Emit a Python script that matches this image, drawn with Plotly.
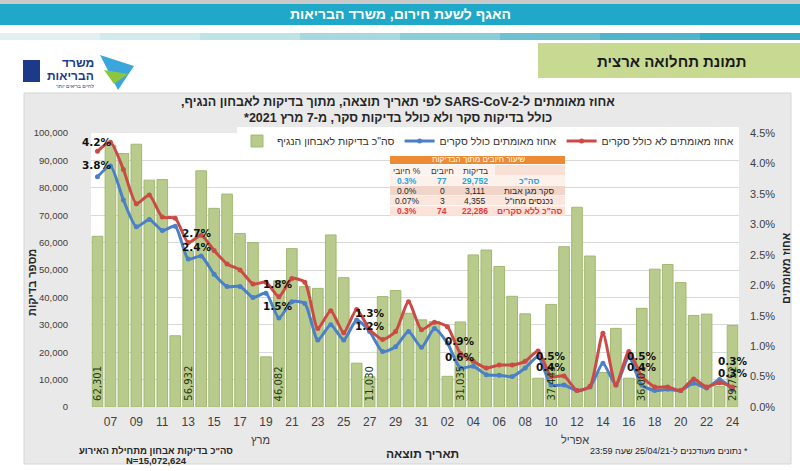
import plotly.graph_objects as go
import pandas as pd

# ---------------- data ----------------
dates = pd.date_range("2021-03-06", "2021-04-24", freq="D").strftime("%Y-%m-%d").tolist()

tests = [62301, 95500, 92500, 95900, 82800, 83000, 26000, 56932, 86200, 72500,
         77700, 63300, 60000, 18300, 46082, 57800, 44000, 43300, 62800, 47200,
         16000, 11030, 40300, 42500, 34200, 31800, 31200, 11200, 31035, 55500,
         57300, 51300, 40400, 34000, 10500, 37443, 58500, 72900, 55100, 12600,
         28700, 10500, 36001, 50300, 52000, 45400, 33400, 33900, 7500, 29752]

pct_no_screen = [4.20, 4.35, 3.90, 3.34, 3.48, 3.12, 3.10, 2.70, 2.82, 2.57,
                 2.35, 2.25, 2.02, 2.05, 1.81, 2.11, 2.05, 1.29, 1.58, 1.22,
                 1.60, 1.27, 1.11, 1.24, 1.73, 1.27, 1.39, 1.32, 0.88, 0.75,
                 0.64, 0.69, 0.69, 0.75, 0.92, 0.50, 0.51, 0.27, 0.34, 1.21,
                 0.36, 0.91, 0.50, 0.33, 0.33, 0.27, 0.46, 0.33, 0.40, 0.33]

pct_with_screen = [3.78, 3.96, 3.40, 2.96, 3.08, 2.90, 2.97, 2.43, 2.48, 2.18,
                   1.98, 1.98, 1.80, 1.87, 1.46, 1.73, 1.70, 1.10, 1.35, 1.10,
                   1.43, 1.24, 0.91, 0.99, 1.24, 0.98, 1.29, 1.05, 0.64, 0.67,
                   0.53, 0.52, 0.50, 0.64, 0.83, 0.36, 0.36, 0.27, 0.33, 0.72,
                   0.36, 0.82, 0.36, 0.27, 0.29, 0.27, 0.39, 0.31, 0.45, 0.28]

label_dates = ["2021-03-06", "2021-03-13", "2021-03-20", "2021-03-27",
               "2021-04-03", "2021-04-10", "2021-04-17", "2021-04-24"]

name_bars = 'סה"כ בדיקות לאבחון הנגיף'
name_with = "אחוז מאומתים כולל סקרים"
name_no = "אחוז מאומתים לא כולל סקרים"

table_title = "שיעור חיובים מתוך הבדיקות"
table_cols = ["בדיקות", "חיובים", "% חיובי"]
table_rows = ['סה"כ', "סקר מגן אבות", 'נכנסים מחו"ל', 'סה"כ ללא סקרים']
table_tests = [29752, 3111, 4355, 22286]
table_pos = [77, 0, 3, 74]
table_pct = ["0.3%", "0.0%", "0.07%", "0.3%"]

# ---------------- styles ----------------
FONT = "Liberation Sans, DejaVu Sans, Arial, sans-serif"
VFONT = "DejaVu Sans, Verdana, sans-serif"
RED = "#cc4a45"
BLUE = "#4a80c8"
GREEN = "#b8cb8c"

L, R, T, B = 91, 739, 133, 407
W, H = 800, 471


def px(x):
    return (x - L) / (R - L)


def py(y):
    return (B - y) / (B - T)


def rtl(s):
    return "\u202b" + s + "\u202c"


fig = go.Figure()

bar_text_idx = [dates.index(d) for d in label_dates]

fig.add_trace(go.Bar(
    x=dates, y=tests, name=name_bars,
    marker=dict(color=GREEN, line=dict(color="#a2b872", width=1)),
    hoverinfo="x+y",
))
fig.add_trace(go.Scatter(
    x=dates, y=pct_with_screen, name=name_with, yaxis="y2",
    mode="lines+markers", line=dict(color=BLUE, width=3, shape="spline", smoothing=0.6),
    marker=dict(size=5, color=BLUE),
))
fig.add_trace(go.Scatter(
    x=dates, y=pct_no_screen, name=name_no, yaxis="y2",
    mode="lines+markers", line=dict(color=RED, width=3, shape="spline", smoothing=0.6),
    marker=dict(size=5, color=RED),
))

annotations = []

# bar value labels (rotated, at the bottom of the bars)
for i in bar_text_idx:
    annotations.append(dict(
        x=dates[i], y=0, xref="x", yref="y", text=f"{tests[i]:,}",
        textangle=-90, showarrow=False, yanchor="bottom", xanchor="center",
        yshift=4, font=dict(family=VFONT, size=10, color="#1f3a0f"),
    ))

# line data labels
red_shift = {"2021-03-06": 9, "2021-03-13": 10, "2021-03-20": 13, "2021-03-27": 17,
             "2021-04-03": 12, "2021-04-10": 21, "2021-04-17": 21, "2021-04-24": 26}
blue_shift = {"2021-03-06": 12, "2021-03-13": 12, "2021-03-20": 12, "2021-03-27": 6,
              "2021-04-03": 11, "2021-04-10": 18, "2021-04-17": 18, "2021-04-24": 17}
x_shift = {"2021-03-13": 9, "2021-03-20": -1}
for d in label_dates:
    i = dates.index(d)
    for vals, sh in ((pct_no_screen, red_shift), (pct_with_screen, blue_shift)):
        annotations.append(dict(
            x=d, y=vals[i], xref="x", yref="y2", text=f"<b>{vals[i]:.1f}%</b>",
            showarrow=False, yshift=sh[d], xshift=x_shift.get(d, 0),
            font=dict(family=VFONT, size=10.5, color="#111111"),
        ))


def ann(text, x, y, size=11, color="#262626", bold=False, xanchor="center", angle=0, family=FONT):
    t = f"<b>{text}</b>" if bold else text
    annotations.append(dict(
        x=px(x), y=py(y), xref="paper", yref="paper", text=t, showarrow=False,
        xanchor=xanchor, yanchor="middle", textangle=angle,
        font=dict(family=family, size=size, color=color),
    ))


shapes = []


def rect(x0, y0, x1, y1, fill, line=None, layer="below"):
    shapes.append(dict(
        type="rect", xref="paper", yref="paper",
        x0=px(x0), x1=px(x1), y0=py(y1), y1=py(y0),
        fillcolor=fill, line=dict(width=0 if line is None else 1, color=line or fill),
        layer=layer,
    ))


# page decorations
rect(0, 0, 800, 4, "#c9c9c9")
rect(0, 4, 800, 25, "#20a8c8")
strip_cols = ["#e3f0ef", "#d2ebea", "#bfe2e4", "#a6d8de", "#8acdd8", "#6cc1d1", "#4fb5ca", "#33aac4"]
for k, c in enumerate(strip_cols):
    rect(k * 100, 33, (k + 1) * 100, 40, c)
rect(538, 43, 800, 78, "#c8da92")
# chart panel
rect(24, 93, 791, 464, "#e9e9e9", line="#d5d5d5")
rect(L, T, R, B, "white")

# logo
shapes.append(dict(type="path", xref="paper", yref="paper",
                   path=f"M {px(100)} {py(55)} L {px(134)} {py(66)} L {px(118)} {py(90)} Z",
                   fillcolor="#3aa6dc", line=dict(width=0), layer="above"))
shapes.append(dict(type="path", xref="paper", yref="paper",
                   path=f"M {px(104)} {py(70)} L {px(128)} {py(74)} L {px(114)} {py(84)} Z",
                   fillcolor="#8cc63e", line=dict(width=0), layer="above"))
rect(23, 60, 40, 82, "#1d3a8a", layer="above")
ann("משרד", 96, 63, size=12, color="#1d3a8a", bold=True, xanchor="right")
ann("הבריאות", 96, 76, size=12, color="#1d3a8a", bold=True, xanchor="right")
ann("לחיים בריאים יותר", 96, 86, size=5, color="#1d3a8a", xanchor="right")

# headers
ann(rtl("האגף לשעת חירום, משרד הבריאות"), 400, 14, size=14, color="white", bold=True)
ann("תמונת תחלואה ארצית", 672, 61, size=15, color="#1a1a1a", bold=True)
ann(rtl("אחוז מאומתים ל-SARS-CoV-2 לפי תאריך תוצאה, מתוך בדיקות לאבחון הנגיף,"), 398, 102, size=12.5, bold=True)
ann(rtl("כולל בדיקות סקר ולא כולל בדיקות סקר, מ-7 מרץ 2021*"), 398, 118, size=12.5, bold=True)

# axis titles
ann("מספר בדיקות", 32, 283, size=11, bold=True, angle=-90)
ann("אחוז מאומתים", 786, 268, size=11, bold=True, angle=-90)
ann("מרץ", 260, 440, size=11, color="#404040")
ann("אפריל", 575, 440, size=11, color="#404040")
ann("תאריך תוצאה", 422, 454, size=12, bold=True)
ann(rtl('סה"כ בדיקות אבחון מתחילת האירוע'), 156, 450, size=9.5, bold=True)
ann("N=15,072,624", 156, 460, size=9.5, bold=True)
ann(rtl("* נתונים מעודכנים ל-25/04/21 שעה 23:59"), 669, 451, size=9, color="#262626")

# summary table
tx0, tx1 = 390, 565
col_x = [475, 442, 407]     # tests, positives, pct columns
lab_x = 529
rect(tx0, 155, tx1, 164, "#ef8a34", layer="above")
ann(table_title, 478, 159.5, size=8, color="white")
rect(tx0, 165, tx1, 175.5, "#fdf3ee", layer="above")
rect(495, 165, tx1, 175.5, "#f8e0d6", layer="above")
for c, t in zip(col_x, table_cols):
    ann(rtl(t), c, 170.5, size=8.5, color="#333333")
row_y = [180.5, 190.5, 200.5, 211]
row_fill = ["#fdf1ec", "#f2d5c9", "#fbe6dd", "#fce3d9"]
row_color = ["#2aa3dc", "#262626", "#262626", "#e23b40"]
for k in range(4):
    rect(tx0, row_y[k] - 4.8, tx1, row_y[k] + 4.8, row_fill[k], layer="above")
    ann(table_rows[k], lab_x, row_y[k], size=8.5, color=row_color[k], bold=(k in (0, 3)))
    ann(f"{table_tests[k]:,}", col_x[0], row_y[k], size=8.5, color=row_color[k], bold=(k in (0, 3)))
    ann(str(table_pos[k]), col_x[1], row_y[k], size=8.5, color=row_color[k], bold=(k in (0, 3)))
    ann(table_pct[k], col_x[2], row_y[k], size=8.5, color=row_color[k], bold=(k in (0, 3)))

fig.update_layout(
    width=W, height=H,
    margin=dict(l=L, r=W - R, t=T, b=H - B),
    paper_bgcolor="white", plot_bgcolor="white",
    bargap=0.18,
    font=dict(family=FONT, color="#404040"),
    showlegend=True,
    legend=dict(orientation="h", x=1, xanchor="right", y=py(141), yanchor="middle",
                bgcolor="white", font=dict(family=FONT, size=10.5, color="#333333"),
                traceorder="normal", itemwidth=30),
    xaxis=dict(type="date", range=["2021-03-05 12:00", "2021-04-24 12:00"],
               tick0="2021-03-07", dtick=2 * 86400000, tickformat="%d",
               showgrid=False, ticks="", tickfont=dict(size=12, color="#404040"),
               ticklabelstandoff=6, showline=False, zeroline=False),
    yaxis=dict(range=[0, 100000], dtick=10000, tickformat=",", gridcolor="#d9d9d9",
               zeroline=False, tickfont=dict(size=9.5, color="#404040"),
               ticklabelstandoff=22),
    yaxis2=dict(overlaying="y", side="right", range=[0, 4.5], dtick=0.5,
                tickformat=".1f", ticksuffix="%", showgrid=False, zeroline=False,
                tickfont=dict(size=11, color="#404040"), ticklabelstandoff=10),
    annotations=annotations,
    shapes=shapes,
)

fig.write_html("out.html", config={"displayModeBar": False},
               post_script="document.body.style.margin='0';")
